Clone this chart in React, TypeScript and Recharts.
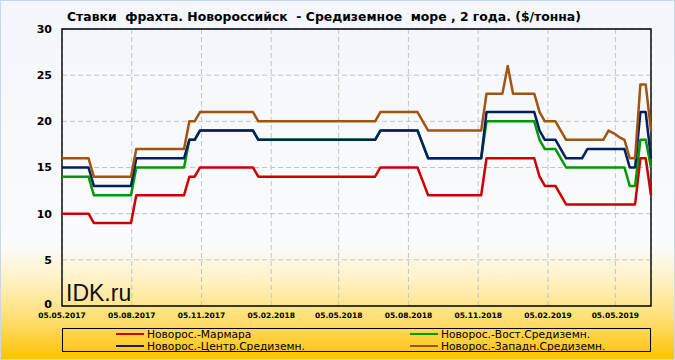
import { LineChart, Line, XAxis, YAxis, CartesianGrid, ReferenceArea } from "recharts";

// weekly quotes, first week = START_DATE
const START_DATE = "05.05.2017";
const X_TICK_LABELS = [
  "05.05.2017", "05.08.2017", "05.11.2017", "05.02.2018", "05.05.2018",
  "05.08.2018", "05.11.2018", "05.02.2019", "05.05.2019",
];
const Y_TICKS = [0, 5, 10, 15, 20, 25, 30];

const MARMARA = [
  10, 10, 10, 10, 10, 10, 9, 9, 9, 9,
  9, 9, 9, 9, 12, 12, 12, 12, 12, 12,
  12, 12, 12, 12, 14, 14, 15, 15, 15, 15,
  15, 15, 15, 15, 15, 15, 15, 14, 14, 14,
  14, 14, 14, 14, 14, 14, 14, 14, 14, 14,
  14, 14, 14, 14, 14, 14, 14, 14, 14, 14,
  15, 15, 15, 15, 15, 15, 15, 15, 13.5, 12,
  12, 12, 12, 12, 12, 12, 12, 12, 12, 12,
  16, 16, 16, 16, 16, 16, 16, 16, 16, 16,
  14, 13, 13, 13, 12, 11, 11, 11, 11, 11,
  11, 11, 11, 11, 11, 11, 11, 11, 11, 16,
  16, 12,
];
const VOST = [
  14, 14, 14, 14, 14, 14, 12, 12, 12, 12,
  12, 12, 12, 12, 15, 15, 15, 15, 15, 15,
  15, 15, 15, 15, 18, 18, 19, 19, 19, 19,
  19, 19, 19, 19, 19, 19, 19, 18, 18, 18,
  18, 18, 18, 18, 18, 18, 18, 18, 18, 18,
  18, 18, 18, 18, 18, 18, 18, 18, 18, 18,
  19, 19, 19, 19, 19, 19, 19, 19, 17.5, 16,
  16, 16, 16, 16, 16, 16, 16, 16, 16, 16,
  20, 20, 20, 20, 20, 20, 20, 20, 20, 20,
  18, 17, 17, 17, 16, 15, 15, 15, 15, 15,
  15, 15, 15, 15, 15, 15, 15, 13, 13, 18,
  18, 15,
];
const CENTR = [
  15, 15, 15, 15, 15, 15, 13, 13, 13, 13,
  13, 13, 13, 13, 16, 16, 16, 16, 16, 16,
  16, 16, 16, 16, 18, 18, 19, 19, 19, 19,
  19, 19, 19, 19, 19, 19, 19, 18, 18, 18,
  18, 18, 18, 18, 18, 18, 18, 18, 18, 18,
  18, 18, 18, 18, 18, 18, 18, 18, 18, 18,
  19, 19, 19, 19, 19, 19, 19, 19, 17.5, 16,
  16, 16, 16, 16, 16, 16, 16, 16, 16, 16,
  21, 21, 21, 21, 21, 21, 21, 21, 21, 21,
  19, 18, 18, 18, 17, 16, 16, 16, 16, 17,
  17, 17, 17, 17, 17, 17, 17, 15, 15, 21,
  21, 16,
];
const ZAPAD = [
  16, 16, 16, 16, 16, 16, 14, 14, 14, 14,
  14, 14, 14, 14, 17, 17, 17, 17, 17, 17,
  17, 17, 17, 17, 20, 20, 21, 21, 21, 21,
  21, 21, 21, 21, 21, 21, 21, 20, 20, 20,
  20, 20, 20, 20, 20, 20, 20, 20, 20, 20,
  20, 20, 20, 20, 20, 20, 20, 20, 20, 20,
  21, 21, 21, 21, 21, 21, 21, 21, 20, 19,
  19, 19, 19, 19, 19, 19, 19, 19, 19, 19,
  23, 23, 23, 23, 26, 23, 23, 23, 23, 23,
  21, 20, 20, 20, 19, 18, 18, 18, 18, 18,
  18, 18, 18, 19, 18.7, 18.3, 18, 16, 16, 24,
  24, 19,
];

const SERIES = [
  { key: "marmara", name: "Новорос.-Мармара", color: "#cc0000", values: MARMARA },
  { key: "vost", name: "Новорос.-Вост.Средиземн.", color: "#009a00", values: VOST },
  { key: "centr", name: "Новорос.-Центр.Средиземн.", color: "#002060", values: CENTR },
  { key: "zapad", name: "Новорос.-Западн.Средиземн.", color: "#a0540f", values: ZAPAD },
];

const FONT = '"DejaVu Sans", Verdana, sans-serif';

const dayOf = (s: string) => {
  const [d, m, y] = s.split(".").map(Number);
  return Math.round(Date.UTC(y, m - 1, d) / 86400000);
};
const fmtDay = (day: number) => {
  const dt = new Date(day * 86400000);
  const p = (n: number) => String(n).padStart(2, "0");
  return `${p(dt.getUTCDate())}.${p(dt.getUTCMonth() + 1)}.${dt.getUTCFullYear()}`;
};

const start = dayOf(START_DATE);
const data = MARMARA.map((_, i) => {
  const row: Record<string, number> = { day: start + 7 * i };
  SERIES.forEach((s) => (row[s.key] = s.values[i]));
  return row;
});
const xTicks = X_TICK_LABELS.map(dayOf);
const xEnd = data[data.length - 1].day;

const YTick = (props: any) => {
  const { x, y, payload } = props;
  // the zero label sits a touch above the date labels
  const shift = payload.value === 0 ? -2 : 0;
  return (
    <text x={x} y={y + shift} dy="0.36em" textAnchor="end" fontSize={11} fontWeight="bold" fontFamily={FONT} fill="#000">
      {payload.value}
    </text>
  );
};

const legendPos = [
  { left: 53, top: 5 },
  { left: 347, top: 5 },
  { left: 53, top: 17 },
  { left: 347, top: 17 },
];

export default function App() {
  return (
    <div
      style={{
        position: "absolute",
        left: 0,
        top: 0,
        width: 675,
        height: 360,
        boxSizing: "border-box",
        border: "1px solid #c9d7ea",
        background:
          "linear-gradient(to bottom, #f3f6fb 0%, #fafbfd 68%, #fff2c4 78%, #ffdc6a 90%, #ffc200 100%)",
        fontFamily: FONT,
        overflow: "hidden",
      }}
    >
      <div
        style={{
          position: "absolute",
          left: 66,
          top: 8,
          fontSize: 12.4,
          fontWeight: "bold",
          whiteSpace: "pre",
          color: "#000",
        }}
      >
        {"Ставки  фрахта. Новороссийск  - Средиземное  море , 2 года. ($/тонна)"}
      </div>
      <div style={{ position: "absolute", left: -1, top: -1 }}>
        <LineChart width={675} height={360} data={data} margin={{ top: 29, right: 24, bottom: 34, left: 0 }}>
          <CartesianGrid stroke="#c4c4c4" strokeDasharray="5 3" />
          <XAxis
            dataKey="day"
            type="number"
            domain={[start, xEnd]}
            ticks={xTicks}
            tickFormatter={fmtDay}
            interval={0}
            height={20}
            axisLine={false}
            tickLine={false}
            tickSize={5}
            tickMargin={2}
            tick={{ fontSize: 7.5, fontWeight: "bold", fill: "#000", fontFamily: FONT }}
          />
          <YAxis
            domain={[0, 30]}
            ticks={Y_TICKS}
            width={62}
            axisLine={false}
            tickLine={false}
            tickSize={8}
            tickMargin={2}
            tick={<YTick />}
          />
          <ReferenceArea x1={start} x2={xEnd} y1={0} y2={30} fill="none" stroke="#000" strokeWidth={1.4} ifOverflow="visible" />
          {SERIES.map((s) => (
            <Line
              key={s.key}
              type="linear"
              dataKey={s.key}
              name={s.name}
              stroke={s.color}
              strokeWidth={2.5}
              strokeLinejoin="round"
              dot={false}
              isAnimationActive={false}
            />
          ))}
        </LineChart>
      </div>
      <div
        style={{
          position: "absolute",
          left: 65,
          top: 279,
          fontSize: 23,
          fontFamily: '"Liberation Sans", Arial, sans-serif',
          color: "#111",
        }}
      >
        IDK.ru
      </div>
      <div
        style={{
          position: "absolute",
          left: 61,
          top: 327,
          width: 589,
          height: 24,
          border: "1.4px solid #000",
          boxSizing: "border-box",
        }}
      >
        {SERIES.map((s, i) => {
          const pos = legendPos[i];
          return (
            <div
              key={s.key}
              style={{
                position: "absolute",
                left: pos.left,
                top: pos.top - 6,
                height: 12,
                display: "flex",
                alignItems: "center",
                fontSize: 10.7,
                whiteSpace: "nowrap",
                color: "#000",
              }}
            >
              <span style={{ display: "inline-block", width: 28, height: 2.5, background: s.color, marginRight: 3 }} />
              {s.name}
            </div>
          );
        })}
      </div>
    </div>
  );
}
